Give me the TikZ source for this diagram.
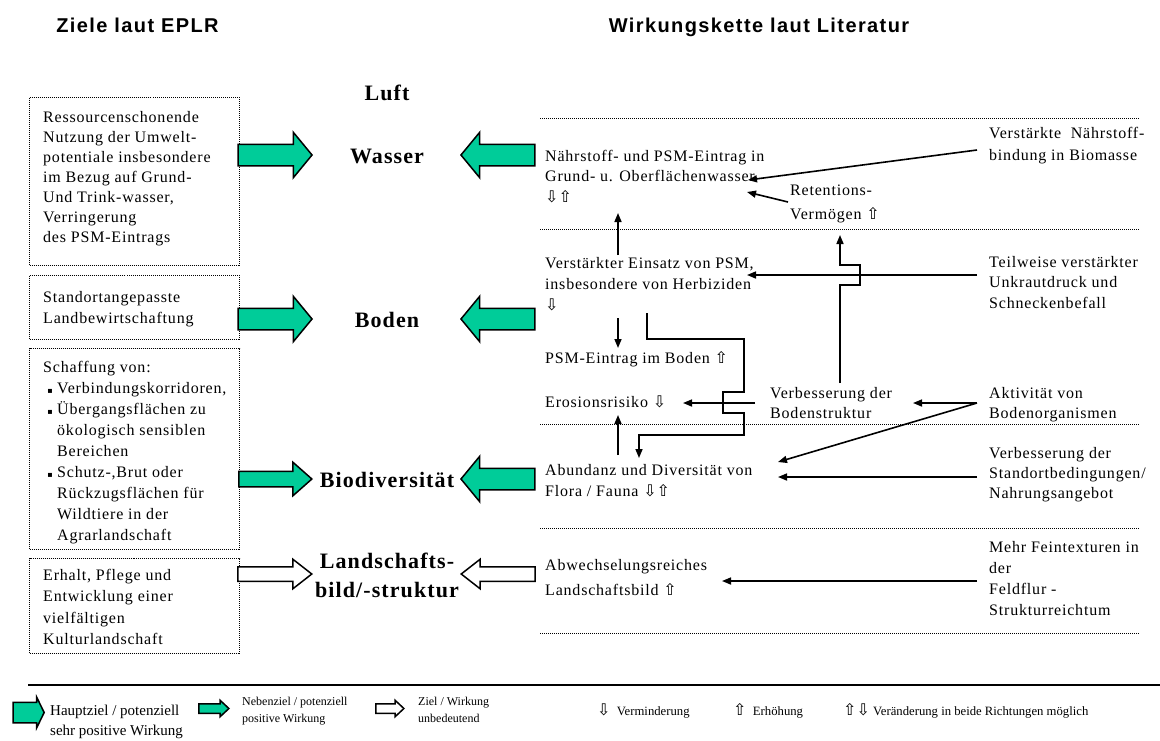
\documentclass[tikz,border=0pt]{standalone}
\usepackage{fontspec}
\setmainfont{Liberation Serif}
\newfontfamily\spaced{Liberation Serif}[LetterSpace=5]
\newfontfamily\spacedsans{Liberation Sans}[LetterSpace=7]
\newfontfamily\symfont{DejaVu Sans}
\usetikzlibrary{shapes.arrows, arrows.meta}
\definecolor{zielgruen}{RGB}{0,204,153}
\newcommand{\zunahme}{{\symfont ⇧}}
\newcommand{\abnahme}{{\symfont ⇩}}
\newcommand{\punkt}{\makebox[14pt][c]{\symfont\fontsize{8}{8}\selectfont ▪}}
\tikzstyle{wirkung} = [line width=1.6pt, -{Triangle[length=9pt,width=7pt]}]

\begin{document}
\begin{tikzpicture}[x=1pt, y=-1pt,
        txt/.style={anchor=base west, inner sep=0pt, align=left, font=\spaced\fontsize{16}{21}\selectfont},
        medium/.style={anchor=base, inner sep=0pt, align=center, font=\spaced\bfseries\fontsize{22}{29}\selectfont},
        titel/.style={anchor=base, inner sep=0pt, font=\spacedsans\bfseries\fontsize{20}{24}\selectfont},
        legende/.style={anchor=base west, inner sep=0pt, align=left},
        zielbox/.style={draw, line width=1pt, dash pattern=on 1pt off 1pt, anchor=north west, inner sep=0pt, minimum width=210pt},
        trenner/.style={line width=1pt, dash pattern=on 1pt off 1pt},
        blockpfeil/.style={single arrow, draw=black, line width=1.5pt, inner sep=0pt, text depth=0pt, anchor=tip, single arrow head indent=0pt},
        gross/.style={blockpfeil, fill=zielgruen, minimum height=74pt, text height=20pt, single arrow head extend=12pt, single arrow tip angle=101},
        klein/.style={blockpfeil, fill=zielgruen, minimum height=73pt, text height=14pt, single arrow head extend=9pt, single arrow tip angle=83},
        kleinweiss/.style={blockpfeil, fill=white, minimum height=74pt, text height=13pt, single arrow head extend=7.5pt, single arrow tip angle=76},
        links/.style={shape border rotate=180}
        ]
        \useasboundingbox (0,0) rectangle (1160,740);

        % Ueberschriften
        \node[titel] (ziele) at (137.5,32) {Ziele laut EPLR};
        \node[titel] (kette) at (759,32) {Wirkungskette laut Literatur};

        % Ziele laut EPLR (Knoten sitzen auf der Grundlinie der letzten Zeile)
        \node[zielbox, minimum height=168pt] (box1) at (29,97) {};
        \node[zielbox, minimum height=64pt] (box2) at (29,275) {};
        \node[zielbox, minimum height=201pt] (box3) at (29,348) {};
        \node[zielbox, minimum height=95pt] (box4) at (29,558) {};
        \node[txt, font=\spaced\fontsize{16}{20}\selectfont] (ressourcen) at (43,242) {Ressourcenschonende\\Nutzung der Umwelt-\\potentiale insbesondere\\im Bezug auf Grund-\\Und Trink-wasser,\\Verringerung\\des PSM-Eintrags};
        \node[txt] (standort) at (43,323) {Standortangepasste\\Landbewirtschaftung};
        \node[txt] (schaffung) at (43,540) {Schaffung von:\\\punkt Verbindungskorridoren,\\\punkt Übergangsflächen zu\\\hspace*{14pt}ökologisch sensiblen\\\hspace*{14pt}Bereichen\\\punkt Schutz-,Brut oder\\\hspace*{14pt}Rückzugsflächen für\\\hspace*{14pt}Wildtiere in der\\\hspace*{14pt}Agrarlandschaft};
        \node[txt, font=\spaced\fontsize{16}{21.5}\selectfont] (erhalt) at (43,644.5) {Erhalt, Pflege und\\Entwicklung einer\\vielfältigen\\Kulturlandschaft};

        % Schutzgueter
        \node[medium] (luft) at (387,100) {Luft};
        \node[medium] (wasser) at (387,163) {Wasser};
        \node[medium] (boden) at (387,327) {Boden};
        \node[medium] (biodiv) at (387,487) {Biodiversität};
        \node[medium] (landschaft) at (387,597) {Landschafts-\\bild/-struktur};

        % Blockpfeile
        \node[gross] (pw1) at (313,155) {};
        \node[gross, links] (pw2) at (460,155) {};
        \node[gross] (pb1) at (313,319) {};
        \node[gross, links] (pb2) at (460,319) {};
        \node[klein] (pd1) at (313,479) {};
        \node[gross, links] (pd2) at (460,479) {};
        \node[kleinweiss] (pl1) at (313,574) {};
        \node[kleinweiss, links] (pl2) at (460,574) {};

        % Trennlinien
        \foreach \y in {118,229,424,528,633}
            \draw[trenner] (540,\y) -- (1140,\y);

        % Wirkungskette
        \node[txt, font=\spaced\fontsize{16}{20.5}\selectfont] (eintragwasser) at (545,202) {Nährstoff- und PSM-Eintrag in\\Grund- u. Oberflächenwasser\\\abnahme\zunahme};
        \node[txt, font=\spaced\fontsize{16}{24}\selectfont] (retention) at (790,219) {Retentions-\\Vermögen \zunahme};
        \node[txt] (einsatz) at (545,310) {Verstärkter Einsatz von PSM,\\insbesondere von Herbiziden\\\abnahme};
        \node[txt] (eintragboden) at (545,363) {PSM-Eintrag im Boden \zunahme};
        \node[txt] (erosion) at (545,407) {Erosionsrisiko \abnahme};
        \node[txt, font=\spaced\fontsize{16}{20}\selectfont] (struktur) at (770,418) {Verbesserung der\\Bodenstruktur};
        \node[txt] (abundanz) at (545,496) {Abundanz und Diversität von\\Flora / Fauna \abnahme\zunahme};
        \node[txt, font=\spaced\fontsize{16}{25}\selectfont] (landschaftsbild) at (545,595) {Abwechselungsreiches\\Landschaftsbild \zunahme};

        \node[txt, font=\spaced\fontsize{16}{22}\selectfont] (biomasse) at (989,160) {Verstärkte\ \ Nährstoff-\\bindung in Biomasse};
        \node[txt, font=\spaced\fontsize{16}{20.5}\selectfont] (unkraut) at (989,308) {Teilweise verstärkter\\Unkrautdruck und\\Schneckenbefall};
        \node[txt, font=\spaced\fontsize{16}{20}\selectfont] (aktivitaet) at (989,418) {Aktivität von\\Bodenorganismen};
        \node[txt, font=\spaced\fontsize{16}{20}\selectfont] (standortbed) at (989,498) {Verbesserung der\\Standortbedingungen/\\Nahrungsangebot};
        \node[txt, font=\spaced\fontsize{16}{20.7}\selectfont] (feintextur) at (989,615) {Mehr Feintexturen in\\der\\Feldflur -\\Strukturreichtum};

        % Anschlusspunkte
        \coordinate (biomasse-l) at (977,150);
        \coordinate (wasser-r) at (748,180);
        \coordinate (retention-l) at (788,202);
        \coordinate (wasser-r2) at (747,192);
        \coordinate (einsatz-o) at (618,255);
        \coordinate (wasser-u) at (618,213);
        \coordinate (unkraut-l) at (977,275);
        \coordinate (einsatz-r) at (747,275);
        \coordinate (struktur-o) at (840,383);
        \coordinate (retention-u) at (840,235);
        \coordinate (einsatz-u) at (618,318);
        \coordinate (boden-o) at (618,348);
        \coordinate (einsatz-u2) at (647,313);
        \coordinate (abundanz-o) at (639,458);
        \coordinate (struktur-l) at (755,403);
        \coordinate (erosion-r) at (683,403);
        \coordinate (abundanz-o2) at (618,455);
        \coordinate (erosion-u) at (618,415);
        \coordinate (aktiv-l) at (977,403);
        \coordinate (struktur-r) at (913,403);
        \coordinate (abundanz-r) at (778,462);
        \coordinate (standort-l) at (977,477);
        \coordinate (abundanz-r2) at (778,477);
        \coordinate (feintextur-l) at (977,581);
        \coordinate (landschaftsbild-r) at (722,581);

        \draw[wirkung] (biomasse-l) -- (wasser-r);
        \draw[wirkung] (retention-l) -- (wasser-r2);
        \draw[wirkung] (einsatz-o) -- (wasser-u);
        \draw[wirkung] (unkraut-l) -- (einsatz-r);
        \draw[wirkung] (struktur-o) -- ++(0,-98) -- ++(20,0) -- ++(0,-20) -- ++(-20,0) -- (retention-u);
        \draw[wirkung] (einsatz-u) -- (boden-o);
        \draw[wirkung] (einsatz-u2) -- ++(0,26) -- ++(97,0) -- ++(0,53) -- ++(-21,0) -- ++(0,21) -- ++(21,0) -- ++(0,22) -| (abundanz-o);
        \draw[wirkung] (struktur-l) -- (erosion-r);
        \draw[wirkung] (abundanz-o2) -- (erosion-u);
        \draw[wirkung] (aktiv-l) -- (struktur-r);
        \draw[wirkung] (aktiv-l) -- (abundanz-r);
        \draw[wirkung] (standort-l) -- (abundanz-r2);
        \draw[wirkung] (feintextur-l) -- (landschaftsbild-r);

        % Legende
        \draw[line width=1.5pt] (28,685) -- (1160,685);
        \node[blockpfeil, fill=zielgruen, minimum height=31pt, text height=19pt, single arrow head extend=5pt, single arrow tip angle=128] (lg1) at (45,712.5) {};
        \node[blockpfeil, fill=zielgruen, minimum height=30pt, text height=8pt, single arrow head extend=3.5pt, single arrow tip angle=86] (lg2) at (230,708.5) {};
        \node[blockpfeil, fill=white, minimum height=28pt, text height=8pt, single arrow head extend=3.5pt, single arrow tip angle=86] (lg3) at (405,708.5) {};
        \node[legende, font=\fontsize{15}{20}\selectfont] (haupt) at (50,735) {Hauptziel / potenziell\\sehr positive Wirkung};
        \node[legende, font=\fontsize{12}{17}\selectfont] (neben) at (242,722) {Nebenziel / potenziell\\positive Wirkung};
        \node[legende, font=\fontsize{12}{17}\selectfont] (unbed) at (418,722) {Ziel / Wirkung\\unbedeutend};
        \node[legende, font=\fontsize{12.7}{15}\selectfont] (vermind) at (597,715) {{\fontsize{16}{16}\selectfont\abnahme}\enspace Verminderung};
        \node[legende, font=\fontsize{12.7}{15}\selectfont] (erhoeh) at (733,715) {{\fontsize{16}{16}\selectfont\zunahme}\enspace Erhöhung};
        \node[legende, font=\fontsize{12.7}{15}\selectfont] (beide) at (843,715) {{\fontsize{16}{16}\selectfont\zunahme\abnahme}\ Veränderung in beide Richtungen möglich};
    \end{tikzpicture}
\end{document}
